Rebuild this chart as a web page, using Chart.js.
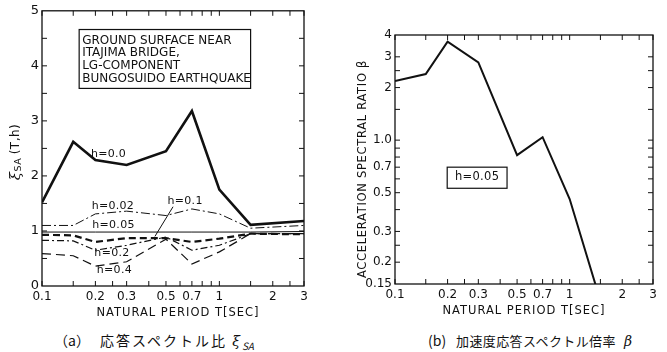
<!DOCTYPE html>
<html>
<head>
<meta charset="utf-8">
<script src="https://cdn.jsdelivr.net/npm/chart.js@4"></script>
<style>
  body { margin: 0; background: #fff; width: 667px; height: 352px; position: relative; overflow: hidden; }
  #left { position: absolute; left: 0; top: 0; }
  #right { position: absolute; left: 330px; top: 0; }
  .cap { position: absolute; top: 330px; font-family: 'Noto Sans CJK JP', sans-serif; color: #111; white-space: nowrap; }
  .cap i { font-family: 'DejaVu Serif', serif; }
  .cap sub { font-size: 10px; font-style: italic; letter-spacing: 0; }
</style>
</head>
<body>
<canvas id="left" width="330" height="322"></canvas>
<canvas id="right" width="337" height="322"></canvas>
<span class="cap" style="left:54px; font-size:14px">（a）</span>
<span class="cap" style="left:100px; font-size:14px; letter-spacing:2px">応答スペクトル比 <i>ξ</i><sub>SA</sub></span>
<span class="cap" style="left:428px; font-size:14px">(b)</span>
<span class="cap" style="left:456px; font-size:13px; letter-spacing:0.4px; top:331px">加速度応答スペクトル倍率 <i style="font-size:14px">&nbsp;β</i></span>
<script>
// natural period T [sec]
const periods = [0.1, 0.15, 0.2, 0.3, 0.5, 0.7, 1.0, 1.5, 3];
// response spectral ratio xi_SA for each damping h
const xiH000 = [1.52, 2.62, 2.29, 2.20, 2.45, 3.18, 1.75, 1.11, 1.18];
const xiH002 = [1.10, 1.10, 1.31, 1.36, 1.28, 1.40, 1.31, 1.05, 1.10];
const xiH005 = [0.98, 0.98, 0.98, 0.98, 0.98, 0.98, 0.98, 0.98, 0.99];
const xiH010 = [0.93, 0.92, 0.80, 0.87, 0.87, 0.80, 0.86, 0.95, 0.94];
const xiH020 = [0.83, 0.82, 0.65, 0.74, 0.89, 0.65, 0.74, 0.95, 0.95];
const xiH040 = [0.59, 0.55, 0.36, 0.44, 0.85, 0.40, 0.62, 0.95, 0.95];

// acceleration spectral ratio beta, h=0.05
const betaPeriods = [0.1, 0.15, 0.2, 0.3, 0.5, 0.7, 1.0, 1.5];
const beta = [2.18, 2.39, 3.66, 2.79, 0.82, 1.04, 0.46, 0.12];

const xTickValues = [0.1, 0.2, 0.3, 0.5, 0.7, 1, 2, 3];
const xTickLabels = ['0.1', '0.2', '0.3', '0.5', '0.7', '1', '2', '3'];
const xMinor = [0.1, 0.15, 0.2, 0.25, 0.3, 0.4, 0.5, 0.6, 0.7, 0.8, 0.9, 1, 1.5, 2, 2.5, 3];
const xiTicks = [0, 1, 2, 3, 4, 5];
const xiMinor = [0.5, 1, 1.5, 2, 2.5, 3, 3.5, 4, 4.5];
const betaTickValues = [0.15, 0.2, 0.3, 0.5, 0.7, 1, 2, 3, 4];
const betaTickLabels = ['0.15', '0.2', '0.3', '0.5', '0.7', '1.0', '2', '3', '4'];
const betaMinor = [0.2, 0.25, 0.3, 0.4, 0.5, 0.6, 0.7, 0.8, 0.9, 1, 1.5, 2, 2.5, 3];

const FONT = "'DejaVu Sans', sans-serif";
const INK = '#111';

const pts = (xs, ys) => xs.map((x, i) => ({ x, y: ys[i] }));

// frame with inward ticks plus hand lettering
const frame = {
  id: 'frame',
  afterDraw(chart, args, opts) {
    const { ctx, chartArea: a, scales: { x, y } } = chart;
    ctx.save();
    ctx.strokeStyle = INK;
    ctx.fillStyle = INK;
    ctx.lineWidth = 1.3;
    ctx.strokeRect(a.left, a.top, a.right - a.left, a.bottom - a.top);
    ctx.lineWidth = 1;
    ctx.beginPath();
    opts.xMarks.forEach((v) => {
      const px = x.getPixelForValue(v);
      ctx.moveTo(px, a.bottom); ctx.lineTo(px, a.bottom - 5);
      ctx.moveTo(px, a.top); ctx.lineTo(px, a.top + 5);
    });
    opts.yMarks.forEach((v) => {
      const py = y.getPixelForValue(v);
      ctx.moveTo(a.left, py); ctx.lineTo(a.left + 5, py);
      ctx.moveTo(a.right, py); ctx.lineTo(a.right - 5, py);
    });
    ctx.stroke();

    ctx.font = `11px ${FONT}`;
    ctx.letterSpacing = '0.3px';
    ctx.textAlign = 'center';
    ctx.textBaseline = 'middle';
    (opts.labels || []).forEach((l) => {
      ctx.fillText(l.text, x.getPixelForValue(l.x), y.getPixelForValue(l.y));
    });
    (opts.leaders || []).forEach((l) => {
      ctx.beginPath();
      ctx.moveTo(x.getPixelForValue(l.from[0]), y.getPixelForValue(l.from[1]));
      ctx.lineTo(x.getPixelForValue(l.to[0]), y.getPixelForValue(l.to[1]));
      ctx.stroke();
    });
    (opts.boxes || []).forEach((b) => {
      const x0 = x.getPixelForValue(b.x0), x1 = x.getPixelForValue(b.x1);
      const y0 = y.getPixelForValue(b.y0), y1 = y.getPixelForValue(b.y1);
      ctx.lineWidth = 1.2;
      ctx.strokeRect(x0, y0, x1 - x0, y1 - y0);
      ctx.font = `${b.size}px ${FONT}`;
      ctx.letterSpacing = b.spacing;
      ctx.textAlign = b.align;
      ctx.textBaseline = 'top';
      const tx = b.align === 'center' ? (x0 + x1) / 2 : x0 + 3;
      b.lines.forEach((t, i) => ctx.fillText(t, tx, y0 + b.top + i * b.lead));
    });

    // axis titles
    ctx.font = `11.5px ${FONT}`;
    ctx.letterSpacing = '1px';
    ctx.textAlign = 'center';
    ctx.textBaseline = 'middle';
    ctx.fillText('NATURAL PERIOD T[SEC]', (a.left + a.right) / 2 + opts.xTitleShift, a.bottom + opts.xTitleOffset);
    ctx.save();
    ctx.translate(opts.yTitleX, opts.yTitleY);
    ctx.rotate(-Math.PI / 2);
    if (opts.yTitle === 'xi') {
      ctx.letterSpacing = '0.5px';
      ctx.textAlign = 'left';
      ctx.font = `italic 15px 'DejaVu Serif', serif`;
      const w0 = ctx.measureText('ξ').width;
      ctx.font = `9.5px ${FONT}`;
      const w1 = ctx.measureText('SA ').width;
      ctx.font = `12px ${FONT}`;
      const w2 = ctx.measureText('(T,h)').width;
      let cx = -(w0 + w1 + w2) / 2;
      ctx.font = `italic 15px 'DejaVu Serif', serif`;
      ctx.fillText('ξ', cx, 0); cx += w0;
      ctx.font = `9.5px ${FONT}`;
      ctx.fillText('SA ', cx, 3); cx += w1;
      ctx.font = `12px ${FONT}`;
      ctx.fillText('(T,h)', cx, 0);
    } else {
      ctx.font = `11.5px ${FONT}`;
      ctx.letterSpacing = '0.7px';
      ctx.fillText(opts.yTitle, 0, 0);
    }
    ctx.restore();
    ctx.restore();
  }
};

const tickFont = { family: FONT, size: 12 };

function logX(h) {
  return {
    type: 'logarithmic', min: 0.1, max: 3,
    afterBuildTicks: (s) => { s.ticks = xTickValues.map((v) => ({ value: v })); },
    afterFit: (s) => { s.height = h; },
    grid: { display: false, drawTicks: false },
    border: { display: false },
    ticks: {
      autoSkip: false, maxRotation: 0, padding: 4, color: INK, font: tickFont,
      callback: (v, i) => xTickLabels[i],
    },
  };
}

const lineSet = (data, width, dash) => ({
  data, borderColor: INK, backgroundColor: INK, borderWidth: width,
  borderDash: dash, pointRadius: 0, tension: 0, fill: false,
});

new Chart(document.getElementById('left'), {
  type: 'line',
  data: {
    datasets: [
      lineSet(pts(periods, xiH000), 2.6, []),
      lineSet(pts(periods, xiH002), 1, [9, 3, 2, 3]),
      lineSet(pts(periods, xiH005), 1, []),
      lineSet(pts(periods, xiH010), 2.2, [7, 4]),
      lineSet(pts(periods, xiH020), 1.2, [7, 3, 2, 3]),
      lineSet(pts(periods, xiH040), 1.2, [9, 5]),
    ],
  },
  plugins: [frame],
  options: {
    responsive: false, animation: false,
    layout: { padding: { top: 9, right: 26, left: 0, bottom: 0 } },
    plugins: {
      legend: { display: false }, tooltip: { enabled: false },
      frame: {
        xMarks: xMinor, yMarks: xiMinor,
        xTitleShift: 5, xTitleOffset: 27, yTitle: 'xi', yTitleX: 16, yTitleY: 152,
        labels: [
          { text: 'h=0.0', x: 0.237, y: 2.40 },
          { text: 'h=0.02', x: 0.251, y: 1.46 },
          { text: 'h=0.05', x: 0.253, y: 1.10 },
          { text: 'h=0.1', x: 0.641, y: 1.55 },
          { text: 'h=0.2', x: 0.248, y: 0.60 },
          { text: 'h=0.4', x: 0.256, y: 0.29 },
        ],
        leaders: [{ from: [0.548, 1.44], to: [0.433, 0.90] }],
        boxes: [{
          x0: 0.162, x1: 1.5, y0: 4.66, y1: 3.59, size: 12, spacing: '0px', lead: 12.8, top: 5, align: 'left',
          lines: ['GROUND SURFACE NEAR', 'ITAJIMA BRIDGE,', 'LG-COMPONENT', 'BUNGOSUIDO EARTHQUAKE'],
        }],
      },
    },
    scales: {
      x: logX(36),
      y: {
        type: 'linear', min: 0, max: 5,
        afterBuildTicks: (s) => { s.ticks = xiTicks.map((v) => ({ value: v })); },
        afterFit: (s) => { s.width = 42; },
        grid: { display: false, drawTicks: false },
        border: { display: false },
        ticks: { padding: 3, color: INK, font: { family: FONT, size: 13 } },
      },
    },
  },
});

new Chart(document.getElementById('right'), {
  type: 'line',
  data: { datasets: [lineSet(pts(betaPeriods, beta), 2, [])] },
  plugins: [frame],
  options: {
    responsive: false, animation: false,
    layout: { padding: { top: 35, right: 14, left: 0, bottom: 0 } },
    plugins: {
      legend: { display: false }, tooltip: { enabled: false },
      frame: {
        xMarks: xMinor, yMarks: betaMinor,
        xTitleShift: 0, xTitleOffset: 27, yTitle: 'ACCELERATION SPECTRAL RATIO β', yTitleX: 33, yTitleY: 169,
        boxes: [{ x0: 0.199, x1: 0.438, y0: 0.70, y1: 0.53, size: 11.5, spacing: '0.3px', lead: 13, top: 4, align: 'center', lines: ['h=0.05'] }],
      },
    },
    scales: {
      x: logX(38),
      y: {
        type: 'logarithmic', min: 0.15, max: 4,
        afterBuildTicks: (s) => { s.ticks = betaTickValues.map((v) => ({ value: v })); },
        afterFit: (s) => { s.width = 65; },
        grid: { display: false, drawTicks: false },
        border: { display: false },
        ticks: {
          autoSkip: false, padding: 3, color: INK, font: tickFont,
          callback: (v, i) => betaTickLabels[i],
        },
      },
    },
  },
});
</script>
</body>
</html>
